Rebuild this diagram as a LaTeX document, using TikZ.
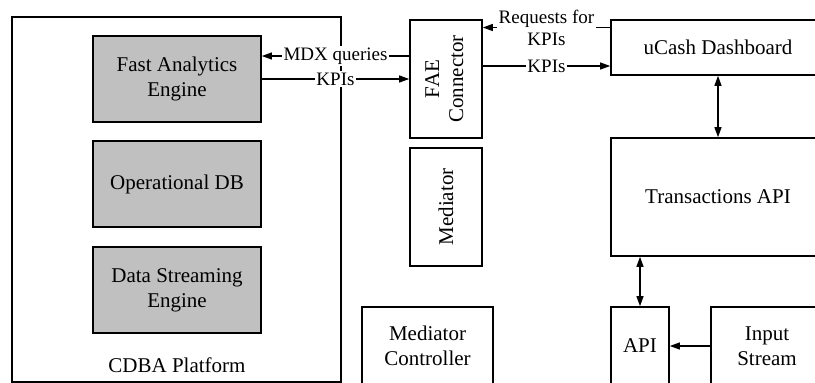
\documentclass[tikz,border=0pt]{standalone}
\usepackage{fontspec}
\setmainfont{Liberation Serif}
\usetikzlibrary{arrows.meta}
\definecolor{boxgray}{RGB}{192,192,192}
\tikzset{
  box/.style={draw, line width=1.6pt, inner sep=0pt, align=center,
    font=\fontsize{21}{25}\selectfont},
  engine/.style={box, fill=boxgray},
  arr/.style={line width=1.3pt, -{Triangle[length=10pt,width=7pt]}},
  darr/.style={line width=1.3pt, {Triangle[length=10pt,width=7pt]}-{Triangle[length=10pt,width=7pt]}},
  lbl/.style={fill=white, inner sep=1.5pt, align=center,
    font=\fontsize{19}{22}\selectfont},
  plain/.style={inner sep=0pt, font=\fontsize{21}{25}\selectfont}
}
\begin{document}
\begin{tikzpicture}[x=1pt, y=-1pt]
\useasboundingbox (0,0) rectangle (815,383);
\clip (0,0) rectangle (815,383);

% CDBA platform frame and its engines
\node[box, minimum width=329pt, minimum height=365pt] (cdba) at (176.5,199.5) {};
\node[plain] (cdbalabel) at (177,365) {CDBA Platform};
\node[engine, minimum width=168pt, minimum height=86pt] (fa)  at (177,79)  {Fast Analytics\\Engine};
\node[engine, minimum width=168pt, minimum height=86pt] (odb) at (177,184) {Operational DB};
\node[engine, minimum width=168pt, minimum height=86pt] (dse) at (177,290) {Data Streaming\\Engine};

% middle column
\node[box, minimum width=72pt, minimum height=118pt] (fae) at (446,79)
  {\rotatebox{90}{\begin{tabular}{@{}c@{}}FAE\\[-1pt]Connector\end{tabular}}};
\node[box, minimum width=72pt, minimum height=118pt] (med) at (446,207)
  {\rotatebox{90}{Mediator}};
\node[box, minimum width=131pt, minimum height=78pt] (medc) at (427.5,346)
  {Mediator\\Controller};

% right column
\node[box, minimum width=214pt, minimum height=55pt]  (ucash) at (718,47.5) {uCash Dashboard};
\node[box, minimum width=214pt, minimum height=118pt] (tapi)  at (718,197)  {Transactions API};
\node[box, minimum width=58pt,  minimum height=78pt]  (api)   at (640,346)  {API};
\node[box, minimum width=112pt, minimum height=78pt]  (input) at (767,346)  {Input\\Stream};

% connectors
\coordinate (mdx) at ([yshift=23pt]fa.east);
\draw[arr] (fae.west |- mdx) -- node[lbl] {MDX queries} (mdx);
\draw[arr] (fa.east) -- node[lbl] {KPIs} (fa.east -| fae.west);

\coordinate (req) at ([yshift=20pt]ucash.west);
\draw[arr] (req) -- node[lbl] {Requests for\\KPIs} (req -| fae.east);
\coordinate (kpo) at ([yshift=13pt]fae.east);
\draw[arr] (kpo) -- node[lbl] {KPIs} (kpo -| ucash.west);

\draw[darr] (ucash.south) -- (tapi.north);
\draw[darr] (tapi.south -| api.north) -- (api.north);
\draw[arr] (input.west) -- (api.east);
\end{tikzpicture}
\end{document}
